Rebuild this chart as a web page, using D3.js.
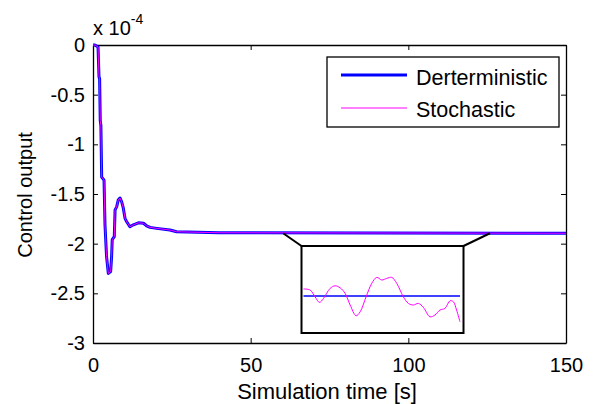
<!DOCTYPE html>
<html>
<head>
  <meta charset="utf-8">
  <title>Control output</title>
  <script src="https://d3js.org/d3.v7.min.js"></script>
  <style>
    body { margin: 0; background: #fff; }
    text { font-family: "Liberation Sans", Arial, Helvetica, sans-serif; }
  </style>
</head>
<body>
<script>
// main curves (values in units of 1e-4)
var timeMain = [0, 0.6, 1.6, 1.9, 2.1, 2.3, 2.5, 2.75, 3.5, 3.8, 4.3, 4.85, 5.6, 5.9, 6.1, 6.75, 7.0, 7.5, 8.0, 8.55,
                9.1, 9.6, 10.15, 10.7, 11.7, 12.8, 14.4, 16.0, 17.0, 18.1, 20.2, 24.4, 26.5, 40, 150];
var deterministic = [0, 0, -0.02, -0.32, -0.34, -0.76, -0.81, -1.33, -1.36, -1.81, -2.13, -2.30, -2.28, -2.13, -1.96, -1.93, -1.66, -1.63, -1.56, -1.54,
                     -1.58, -1.64, -1.745, -1.78, -1.83, -1.81, -1.79, -1.795, -1.82, -1.836, -1.846, -1.863, -1.88, -1.89, -1.895];
var stochastic = [0, 0, -0.02, -0.32, -0.34, -0.76, -0.81, -1.33, -1.36, -1.81, -2.13, -2.30, -2.28, -2.13, -1.96, -1.93, -1.66, -1.63, -1.56, -1.54,
                  -1.58, -1.64, -1.745, -1.78, -1.83, -1.81, -1.79, -1.795, -1.82, -1.836, -1.846, -1.863, -1.88, -1.89, -1.895];

// zoomed inset
var timeInset = [70, 72.1, 73.7, 75.1, 76.4, 78.5, 80.1, 81.7, 83.3, 84.9, 86.8, 88.1, 90.0, 91.8, 93.4, 95.0,
                 96.6, 98.2, 99.8, 101.9, 103.5, 105.1, 106.7, 108.3, 110.4, 112.0, 113.6, 115.2, 116.8, 117.9, 118.9, 120];
var stochasticInset = [-1.8925, -1.8930, -1.8964, -1.8992, -1.8972, -1.8922, -1.8909, -1.8919, -1.8947, -1.9005, -1.9059, -1.9039, -1.8964, -1.8897, -1.8867, -1.8880,
                       -1.8872, -1.8867, -1.8897, -1.8964, -1.8997, -1.9005, -1.8997, -1.9017, -1.9064, -1.9055, -1.9030, -1.9022, -1.8984, -1.8989, -1.9030, -1.9089];
var deterministicInset = -1.896;
var zoomRange = [60.3, 125.9];

var xTicks = [0, 50, 100, 150];
var yTicks = [0, -0.5, -1, -1.5, -2, -2.5, -3];

var width = 595, height = 404;
var margin = { top: 45, right: 29, bottom: 61, left: 93 };

var svg = d3.select("body").append("svg").attr("width", width).attr("height", height);

var xScale = d3.scaleLinear().domain([0, 150]).range([margin.left, width - margin.right]);
var yScale = d3.scaleLinear().domain([-3, 0]).range([height - margin.bottom, margin.top]);

var fs = 20;
function styleAxis(g, hideText) {
  g.selectAll("path.domain").attr("stroke", "#000").attr("stroke-width", 1.3);
  g.selectAll(".tick line").attr("stroke", "#000").attr("stroke-width", 1);
  g.selectAll(".tick text").attr("font-size", fs).attr("fill", "#000")
    .attr("font-family", "'Liberation Sans', Arial, sans-serif");
  if (hideText) g.selectAll(".tick text").remove();
}

svg.append("g").attr("transform", "translate(0," + (height - margin.bottom) + ")")
  .call(d3.axisBottom(xScale).tickValues(xTicks).tickSizeInner(-5).tickSizeOuter(0).tickPadding(15).tickFormat(d => String(d)))
  .call(g => styleAxis(g, false));
svg.append("g").attr("transform", "translate(0," + margin.top + ")")
  .call(d3.axisTop(xScale).tickValues(xTicks).tickSizeInner(-5).tickSizeOuter(0))
  .call(g => styleAxis(g, true));
svg.append("g").attr("transform", "translate(" + margin.left + ",0)")
  .call(d3.axisLeft(yScale).tickValues(yTicks).tickSizeInner(-5).tickSizeOuter(0).tickPadding(8).tickFormat(d => String(d)))
  .call(g => styleAxis(g, false));
svg.append("g").attr("transform", "translate(" + (width - margin.right) + ",0)")
  .call(d3.axisRight(yScale).tickValues(yTicks).tickSizeInner(-5).tickSizeOuter(0))
  .call(g => styleAxis(g, true));

// exponent label
var expo = svg.append("text").attr("x", 93).attr("y", 35).attr("font-size", fs).attr("fill", "#000");
expo.append("tspan").text("x 10");
expo.append("tspan").attr("font-size", 14).attr("dy", -11).text("-4");

// axis titles
svg.append("text").attr("x", 327).attr("y", 399)
  .attr("text-anchor", "middle").attr("font-size", 22).text("Simulation time [s]");
svg.append("text").attr("transform", "translate(32," + 195 + ") rotate(-90)")
  .attr("text-anchor", "middle").attr("font-size", 20).text("Control output");

// main lines
var line = d3.line().x(d => xScale(d[0])).y(d => yScale(d[1]));
svg.append("path").datum(timeMain.map((t, i) => [t, deterministic[i]]))
  .attr("fill", "none").attr("stroke", "#0000ff").attr("stroke-width", 3).attr("stroke-linejoin", "round")
  .attr("d", line);
svg.append("path").datum(timeMain.map((t, i) => [t, stochastic[i]]))
  .attr("fill", "none").attr("stroke", "#ff00ff").attr("stroke-width", 1).attr("d", line);

// inset
var box = { x0: 301.5, x1: 463.5, y0: 246, y1: 333 };
var xIn = d3.scaleLinear().domain([70, 120]).range([303.5, 460]);
var yIn = d3.scaleLinear().domain([-1.9145, -1.871]).range([box.y1, box.y0]);

var ySrc = yScale(deterministic[deterministic.length - 1]);
svg.append("line").attr("x1", xScale(zoomRange[0])).attr("y1", ySrc).attr("x2", box.x0).attr("y2", box.y0)
  .attr("stroke", "#000").attr("stroke-width", 2);
svg.append("line").attr("x1", xScale(zoomRange[1])).attr("y1", ySrc).attr("x2", box.x1).attr("y2", box.y0)
  .attr("stroke", "#000").attr("stroke-width", 2);
svg.append("rect").attr("x", box.x0).attr("y", box.y0).attr("width", box.x1 - box.x0).attr("height", box.y1 - box.y0)
  .attr("fill", "#fff").attr("stroke", "#000").attr("stroke-width", 2);

svg.append("path").datum([[70, deterministicInset], [120, deterministicInset]])
  .attr("fill", "none").attr("stroke", "#0000ff").attr("stroke-width", 1.5)
  .attr("d", d3.line().x(d => xIn(d[0])).y(d => yIn(d[1])));
svg.append("path").datum(timeInset.map((t, i) => [t, stochasticInset[i]]))
  .attr("fill", "none").attr("stroke", "#ff00ff").attr("stroke-width", 1)
  .attr("d", d3.line().curve(d3.curveCatmullRom).x(d => xIn(d[0])).y(d => yIn(d[1])));

// legend
var lg = svg.append("g");
lg.append("rect").attr("x", 327).attr("y", 57).attr("width", 232).attr("height", 70)
  .attr("fill", "#fff").attr("stroke", "#000").attr("stroke-width", 1.3);
lg.append("line").attr("x1", 341).attr("x2", 407).attr("y1", 75).attr("y2", 75).attr("stroke", "#0000ff").attr("stroke-width", 3);
lg.append("line").attr("x1", 341).attr("x2", 407).attr("y1", 108).attr("y2", 108).attr("stroke", "#ff00ff").attr("stroke-width", 1);
lg.append("text").attr("x", 416).attr("y", 85).attr("font-size", 21.5).text("Derterministic");
lg.append("text").attr("x", 416).attr("y", 117).attr("font-size", 21.5).text("Stochastic");
</script>
</body>
</html>
